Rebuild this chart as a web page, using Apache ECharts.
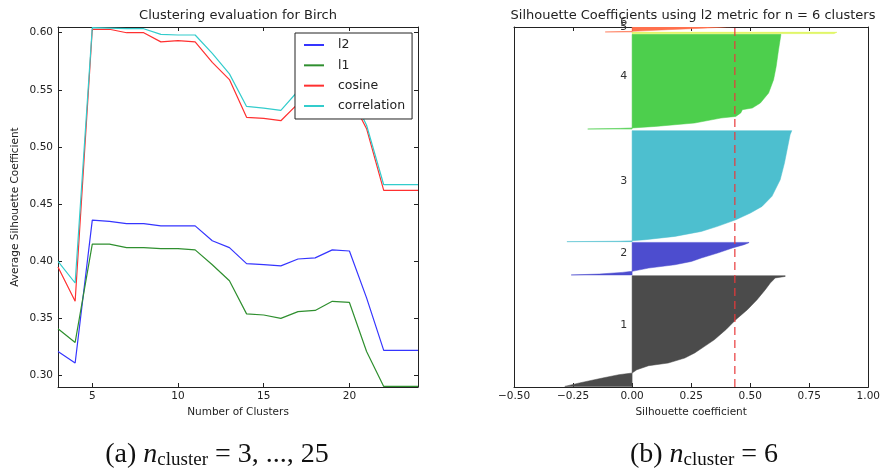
<!DOCTYPE html>
<html>
<head>
<meta charset="utf-8">
<script src="https://cdn.jsdelivr.net/npm/echarts@6/dist/echarts.min.js"></script>
<style>
  html, body { margin: 0; padding: 0; background: #fff; }
  #chart { width: 883px; height: 470px; }
</style>
</head>
<body>
<div id="chart"></div>
<script>
// ---- (a) average silhouette per number of clusters ----
const clusterCounts = [3, 4, 5, 6, 7, 8, 9, 10, 11, 12, 13, 14, 15, 16, 17, 18, 19, 20, 21, 22, 23, 24];
const scoreL2 = [0.321, 0.311, 0.436, 0.435, 0.433, 0.433, 0.431, 0.431, 0.431, 0.418, 0.412, 0.398, 0.397, 0.396, 0.402, 0.403, 0.410, 0.409, 0.368, 0.322, 0.322, 0.322];
const scoreL1 = [0.341, 0.329, 0.415, 0.415, 0.412, 0.412, 0.411, 0.411, 0.410, 0.397, 0.383, 0.354, 0.353, 0.350, 0.356, 0.357, 0.365, 0.364, 0.321, 0.2905, 0.2905, 0.2905];
const scoreCosine = [0.395, 0.365, 0.603, 0.603, 0.600, 0.600, 0.592, 0.593, 0.592, 0.574, 0.559, 0.526, 0.525, 0.523, 0.538, 0.540, 0.545, 0.545, 0.516, 0.462, 0.462, 0.462];
const scoreCorrelation = [0.400, 0.381, 0.6045, 0.604, 0.6035, 0.6035, 0.5985, 0.598, 0.598, 0.582, 0.564, 0.5355, 0.534, 0.532, 0.549, 0.550, 0.553, 0.550, 0.519, 0.467, 0.467, 0.467];
const xTicksA = [5, 10, 15, 20];
const yTicksA = [0.30, 0.35, 0.40, 0.45, 0.50, 0.55, 0.60];

// ---- (b) silhouette profile per cluster: [coefficient, sample row] ----
const cluster1Profile = [[-0.285, 4], [-0.223, 27], [-0.125, 60], [-0.056, 82], [0.0, 93], [0.02, 115], [0.07, 142], [0.153, 160], [0.223, 193], [0.265, 227], [0.307, 271], [0.348, 315], [0.397, 382], [0.439, 449], [0.488, 515], [0.529, 582], [0.564, 649], [0.585, 693], [0.606, 727], [0.648, 737], [0.648, 742]];
const cluster2Profile = [[-0.258, 747], [-0.139, 753], [-0.042, 764], [0.0, 771], [0.07, 793], [0.181, 815], [0.251, 837], [0.293, 860], [0.362, 893], [0.425, 927], [0.474, 949], [0.495, 962], [0.495, 964]];
const cluster3Profile = [[-0.276, 969], [-0.05, 972], [0.0, 975], [0.056, 982], [0.181, 1004], [0.293, 1037], [0.362, 1071], [0.439, 1115], [0.501, 1160], [0.550, 1204], [0.592, 1271], [0.627, 1382], [0.645, 1493], [0.659, 1604], [0.669, 1682], [0.676, 1709]];
const cluster4Profile = [[-0.188, 1720], [-0.05, 1724], [0.0, 1727], [0.098, 1737], [0.265, 1760], [0.376, 1793], [0.439, 1804], [0.460, 1827], [0.467, 1849], [0.509, 1860], [0.543, 1893], [0.578, 1960], [0.599, 2049], [0.610, 2137], [0.620, 2249], [0.630, 2349], [0.630, 2351]];
const cluster5Profile = [[0.855, 2356], [0.867, 2365]];
const cluster6Profile = [[-0.114, 2367], [0.0, 2371], [0.15, 2382], [0.30, 2392], [0.40, 2400], [0.50, 2408], [0.56, 2418]];
const clusterNames = ['1', '2', '3', '4', '5', '6'];
const clusterColors = ['#4b4b4b', '#4d4dcf', '#4dbfcf', '#4dcf4d', '#dbf54d', '#ff704d'];
const silhouetteAvg = 0.435;
const sampleRows = 2400;
const xTicksB = [-0.5, -0.25, 0, 0.25, 0.5, 0.75, 1.0];

const profiles = [cluster1Profile, cluster2Profile, cluster3Profile, cluster4Profile, cluster5Profile, cluster6Profile];

const FONT = 'DejaVu Sans';
const INK = '#222';

function frameAxis(extra) {
  return Object.assign({
    type: 'value',
    axisLine: { show: true, onZero: false, lineStyle: { color: INK, width: 1 } },
    axisTick: { show: true, inside: true, length: 4, lineStyle: { color: INK } },
    axisLabel: { show: false },
    splitLine: { show: false }
  }, extra);
}

// filled silhouette shape between x=0 and the sorted coefficients
function silhouetteSeries(profile, color) {
  return {
    type: 'custom',
    xAxisIndex: 2,
    yAxisIndex: 2,
    clip: true,
    silent: true,
    z: 2,
    data: profile,
    encode: { x: 0, y: 1 },
    renderItem: function (params, api) {
      if (params.dataIndex !== 0) return null;
      const pts = [api.coord([0, profile[0][1]])];
      profile.forEach(function (p) { pts.push(api.coord(p)); });
      pts.push(api.coord([0, profile[profile.length - 1][1]]));
      const cs = params.coordSys;
      return {
        type: 'group',
        clipPath: { type: 'rect', shape: { x: cs.x, y: cs.y, width: cs.width, height: cs.height } },
        children: [{ type: 'polygon', shape: { points: pts }, style: { fill: color, stroke: color, lineWidth: 0.5 } }]
      };
    }
  };
}

const labelData = profiles.map(function (p, i) {
  return [-0.05, (p[0][1] + p[p.length - 1][1]) / 2, clusterNames[i]];
});

const chart = echarts.init(document.getElementById('chart'), null, { renderer: 'canvas' });

const lineColors = ['#3535ff', '#2f8f2f', '#ff3030', '#33cccc'];

const captionRich = {
  p: { fontFamily: 'Liberation Serif', fontSize: 28, fill: '#111', lineHeight: 29, verticalAlign: 'middle' },
  i: { fontFamily: 'Liberation Serif', fontStyle: 'italic', fontSize: 28, fill: '#111', lineHeight: 29, verticalAlign: 'middle' },
  s: { fontFamily: 'Liberation Serif', fontSize: 19, fill: '#111', lineHeight: 17, verticalAlign: 'bottom' }
};

const option = {
  animation: false,
  backgroundColor: '#fff',
  textStyle: { fontFamily: FONT },
  title: [
    { text: 'Clustering evaluation for Birch', left: 238, top: 9, textAlign: 'center', padding: 0,
      textStyle: { fontSize: 13, fontWeight: 'normal', color: INK, fontFamily: FONT } },
    { text: 'Silhouette Coefficients using l2 metric for n = 6 clusters', left: 693, top: 9, textAlign: 'center', padding: 0,
      textStyle: { fontSize: 13, fontWeight: 'normal', color: INK, fontFamily: FONT } }
  ],
  legend: {
    data: ['l2', 'l1', 'cosine', 'correlation'],
    orient: 'vertical',
    left: 295,
    top: 33,
    itemWidth: 20,
    itemHeight: 14,
    itemGap: 6.33,
    padding: [5, 7, 6, 8],
    borderColor: INK,
    borderWidth: 1,
    borderRadius: 0,
    backgroundColor: '#fff',
    itemStyle: { opacity: 0, borderWidth: 0 },
    lineStyle: { width: 2, opacity: 1 },
    textStyle: { fontSize: 12.5, lineHeight: 14, color: INK, fontFamily: FONT, padding: [0, 0, 0, 9] }
  },
  grid: [
    { left: 58, top: 27, width: 360, height: 360 },
    { left: 514, top: 27, width: 359, height: 360 }
  ],
  xAxis: [
    frameAxis({
      gridIndex: 0, position: 'bottom', min: 3, max: 24,
      axisTick: { show: true, inside: true, length: 4, lineStyle: { color: INK }, customValues: xTicksA },
      axisLabel: { show: true, customValues: xTicksA, fontSize: 10.5, color: INK, margin: 4, fontFamily: FONT },
      name: 'Number of Clusters', nameLocation: 'middle', nameGap: 18,
      nameTextStyle: { fontSize: 10.5, color: INK, fontFamily: FONT }
    }),
    frameAxis({
      gridIndex: 0, position: 'top', min: 3, max: 24,
      axisTick: { show: true, inside: true, length: 4, lineStyle: { color: INK }, customValues: xTicksA }
    }),
    frameAxis({
      gridIndex: 1, position: 'bottom', min: -0.5, max: 1.0, interval: 0.25,
      axisLabel: {
        show: true, fontSize: 10.5, color: INK, margin: 4, fontFamily: FONT,
        customValues: xTicksB,
        formatter: function (v) { return v.toFixed(2).replace('-', '\u2212'); }
      },
      axisTick: { show: true, inside: true, length: 4, lineStyle: { color: INK }, customValues: xTicksB },
      name: 'Silhouette coefficient', nameLocation: 'middle', nameGap: 18,
      nameTextStyle: { fontSize: 10.5, color: INK, fontFamily: FONT }
    }),
    frameAxis({
      gridIndex: 1, position: 'top', min: -0.5, max: 1.0, interval: 0.25,
      axisTick: { show: true, inside: true, length: 4, lineStyle: { color: INK }, customValues: xTicksB }
    })
  ],
  yAxis: [
    frameAxis({
      gridIndex: 0, position: 'left', min: 0.29, max: 0.605,
      axisTick: { show: true, inside: true, length: 4, lineStyle: { color: INK }, customValues: yTicksA },
      axisLabel: { show: true, customValues: yTicksA, fontSize: 10.5, color: INK, margin: 5, fontFamily: FONT,
        formatter: function (v) { return v.toFixed(2); } },
      name: 'Average Silhouette Coefficient', nameLocation: 'middle', nameGap: 37, nameRotate: 90,
      nameTextStyle: { fontSize: 10.5, color: INK, fontFamily: FONT }
    }),
    frameAxis({
      gridIndex: 0, position: 'right', min: 0.29, max: 0.605,
      axisTick: { show: true, inside: true, length: 4, lineStyle: { color: INK }, customValues: yTicksA }
    }),
    frameAxis({
      gridIndex: 1, position: 'left', min: 0, max: sampleRows,
      axisTick: { show: false }
    }),
    frameAxis({
      gridIndex: 1, position: 'right', min: 0, max: sampleRows,
      axisTick: { show: false }
    })
  ],
  series: [
    { name: 'l2', type: 'line', xAxisIndex: 0, yAxisIndex: 0, symbol: 'none', color: lineColors[0],
      lineStyle: { width: 1.2, color: lineColors[0] }, data: clusterCounts.map((c, i) => [c, scoreL2[i]]) },
    { name: 'l1', type: 'line', xAxisIndex: 0, yAxisIndex: 0, symbol: 'none', color: lineColors[1],
      lineStyle: { width: 1.2, color: lineColors[1] }, data: clusterCounts.map((c, i) => [c, scoreL1[i]]) },
    { name: 'cosine', type: 'line', xAxisIndex: 0, yAxisIndex: 0, symbol: 'none', color: lineColors[2],
      lineStyle: { width: 1.2, color: lineColors[2] }, data: clusterCounts.map((c, i) => [c, scoreCosine[i]]) },
    { name: 'correlation', type: 'line', xAxisIndex: 0, yAxisIndex: 0, symbol: 'none', color: lineColors[3],
      lineStyle: { width: 1.2, color: lineColors[3] }, data: clusterCounts.map((c, i) => [c, scoreCorrelation[i]]) }
  ].concat(profiles.map(function (p, i) { return silhouetteSeries(p, clusterColors[i]); })).concat([
    {
      // cluster numbers beside each silhouette
      type: 'custom', xAxisIndex: 2, yAxisIndex: 2, silent: true, z: 4,
      data: labelData,
      encode: { x: 0, y: 1 },
      renderItem: function (params, api) {
        const pt = api.coord([api.value(0), api.value(1)]);
        return {
          type: 'text',
          x: pt[0], y: pt[1],
          style: { text: labelData[params.dataIndex][2], fill: '#333', font: '11px "DejaVu Sans"', align: 'left', verticalAlign: 'bottom' }
        };
      }
    },
    {
      // average silhouette score
      type: 'line', xAxisIndex: 2, yAxisIndex: 2, symbol: 'none', silent: true, z: 5,
      lineStyle: { color: '#e8383a', width: 1.2, type: [8, 5] },
      data: [[silhouetteAvg, 0], [silhouetteAvg, sampleRows]]
    }
  ]),
  graphic: [
    {
      type: 'text', x: 217, y: 455,
      style: { text: '{p|(a) }{i|n}{s|cluster}{p| = 3, ..., 25}', align: 'center', verticalAlign: 'middle', rich: captionRich }
    },
    {
      type: 'text', x: 704, y: 455,
      style: { text: '{p|(b) }{i|n}{s|cluster}{p| = 6}', align: 'center', verticalAlign: 'middle', rich: captionRich }
    }
  ]
};

chart.setOption(option);
</script>
</body>
</html>
